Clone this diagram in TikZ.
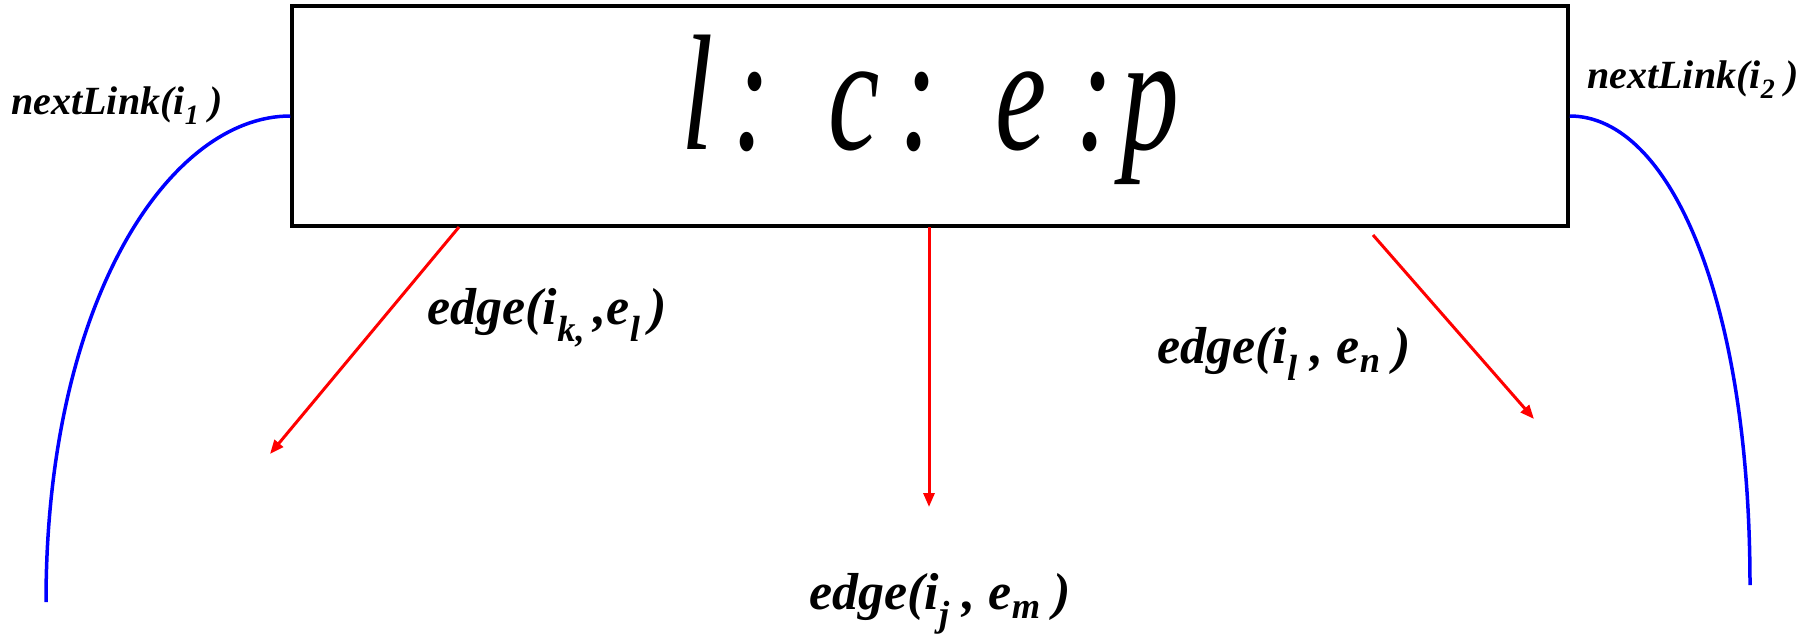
\documentclass[tikz,border=0pt]{standalone}
\usepackage{fontspec}
\setmainfont{Liberation Serif}
\newfontfamily\titlefont{Liberation Serif Italic}
\usetikzlibrary{arrows.meta,calc}
\tikzset{
  mainbox/.style={draw=black,line width=3.5pt,minimum width=1276pt,minimum height=220pt,inner sep=0pt},
  bluecurve/.style={draw=blue,line width=3.5pt},
  redarrow/.style={draw=red,line width=3pt,-{Triangle[length=14pt,width=11pt]}},
  linklabel/.style={font=\fontsize{40}{42}\selectfont\bfseries\itshape,inner sep=0pt},
  edgelabel/.style={font=\fontsize{52}{56}\selectfont\bfseries\itshape,inner sep=0pt}
}
\begin{document}
\begin{tikzpicture}[x=1pt,y=-1pt]
\useasboundingbox (0,0) rectangle (1808,635);
\node[mainbox] (box) at (930,116) {};
\node[inner sep=0pt,anchor=base] (title) at (930,149) {\scalebox{0.70}[1]{\fontsize{165}{170}\selectfont\titlefont l\,:\ \ c\,:\ \ e\ :\kern10pt p}};
\coordinate (lb) at (46,602);
\coordinate (rb) at (1750,585);
\draw[bluecurve] (box.west) .. controls (170,116) and (46,300) .. (lb);
\draw[bluecurve] (box.east) .. controls (1670,116) and (1750,300) .. (rb);
\coordinate (a1s) at (459,227);
\coordinate (a1e) at (270,454);
\coordinate (a2s) at (929,227);
\coordinate (a2e) at (929,507);
\coordinate (a3s) at (1373,235);
\coordinate (a3e) at (1534,419);
\draw[redarrow] (a1s) -- (a1e);
\draw[redarrow] (a2s) -- (a2e);
\draw[redarrow] (a3s) -- (a3e);
\node[linklabel] (nl1) at (117,106) {nextLink(i\textsubscript{1} )};
\node[linklabel] (nl2) at (1693,80) {nextLink(i\textsubscript{2} )};
\node[edgelabel] (e1) at (547,318) {edge(i\textsubscript{k,}\,,e\textsubscript{l}\,)};
\node[edgelabel] (e3) at (1284,354) {edge(i\textsubscript{l} , e\textsubscript{n} )};
\node[edgelabel] (e2) at (940,604) {edge(i\textsubscript{j} , e\textsubscript{m} )};
\end{tikzpicture}
\end{document}
